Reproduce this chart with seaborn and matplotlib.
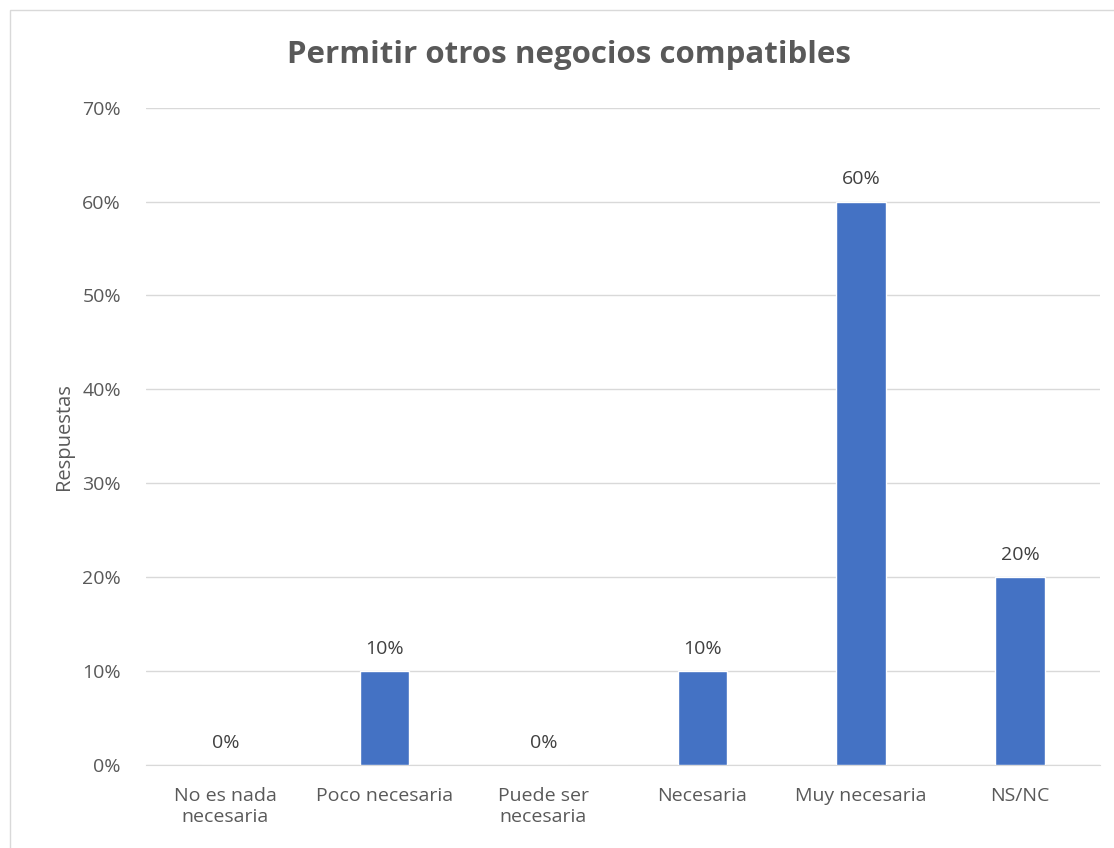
import matplotlib
matplotlib.use("Agg")
import matplotlib.pyplot as plt
import seaborn as sns
import pandas as pd
from matplotlib.patches import Rectangle

categories = ["No es nada\nnecesaria", "Poco necesaria", "Puede ser\nnecesaria",
              "Necesaria", "Muy necesaria", "NS/NC"]
values = [0.0, 0.10, 0.0, 0.10, 0.60, 0.20]
ytick_vals = [0, 0.1, 0.2, 0.3, 0.4, 0.5, 0.6, 0.7]

df = pd.DataFrame({"categoria": categories, "valor": values})

sns.set_style("white")
plt.rcParams["font.family"] = ["Open Sans", "DejaVu Sans"]
gray = "#595959"

fig = plt.figure(figsize=(11.14, 8.48), dpi=100)
ax = fig.add_axes([0.131, 0.098, 0.856, 0.775])

sns.barplot(data=df, x="categoria", y="valor", color="#4472C4", width=0.31,
            saturation=1, ax=ax, zorder=3)

ax.set_ylim(0, 0.7)
ax.set_yticks(ytick_vals)
ax.set_yticklabels([f"{int(round(v*100))}%" for v in ytick_vals], color=gray, fontsize=14)
ax.tick_params(axis="x", colors=gray, labelsize=14, length=0, pad=16)
ax.tick_params(axis="y", length=0, pad=18)
ax.grid(axis="y", color="#D9D9D9", linewidth=1, zorder=0)
for s in ["top", "right", "left"]:
    ax.spines[s].set_visible(False)
ax.spines["bottom"].set_color("#D9D9D9")
ax.set_xlabel("")
ax.set_ylabel("Respuestas", color=gray, fontsize=14.5, labelpad=6)

for i, v in enumerate(values):
    ax.text(i, v + 0.014, f"{int(round(v*100))}%", ha="center", va="bottom",
            color="#404040", fontsize=14)

fig.text(0.511, 0.935, "Permitir otros negocios compatibles", ha="center", va="center",
         fontsize=22.5, fontweight="bold", color=gray)

fig.patches.append(Rectangle((0.009, -0.01), 0.995, 0.998, transform=fig.transFigure,
                             fill=False, edgecolor="#D9D9D9", linewidth=1))

fig.savefig("out.png", dpi=100)
